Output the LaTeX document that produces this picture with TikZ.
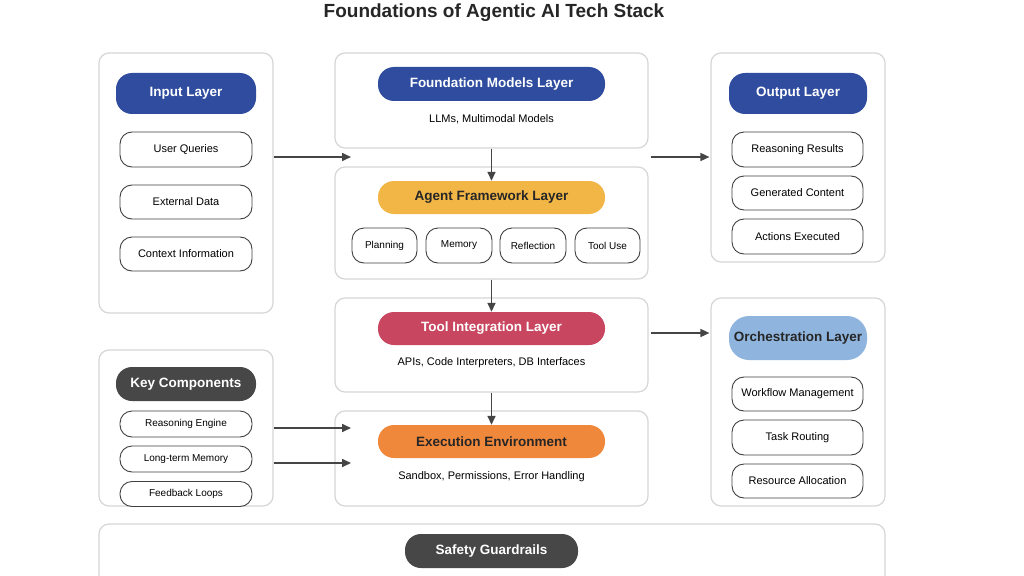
\documentclass[tikz,border=0pt]{standalone}
\usepackage{fontspec}
\setmainfont{Liberation Sans}
\usetikzlibrary{arrows.meta,positioning}

\definecolor{layerblue}{HTML}{2F4C9F}
\definecolor{layergold}{HTML}{F2B647}
\definecolor{layerred}{HTML}{C8465F}
\definecolor{layerorange}{HTML}{F0883C}
\definecolor{layergray}{HTML}{474747}
\definecolor{layersky}{HTML}{8FB5DE}
\definecolor{panelline}{HTML}{D6D6D6}
\definecolor{arrowgray}{HTML}{454545}

\tikzset{
  panel/.style={draw=panelline, line width=1.2pt, rounded corners=10pt, fill=white},
  pill/.style={rounded corners=16pt, font=\fontsize{13.5}{15}\selectfont\bfseries, text=white},
  item/.style={draw=black!75, line width=0.9pt, rounded corners=12pt, fill=white, font=\fontsize{11}{13}\selectfont},
  note/.style={font=\fontsize{11}{13}\selectfont},
  flow/.style={-{Triangle[length=9pt,width=8pt]}, draw=arrowgray, line width=1.6pt}
}

\begin{document}
\begin{tikzpicture}[x=1pt,y=-1pt]
\useasboundingbox[fill=white] (0,0) rectangle (1024,575);

\node[font=\fontsize{19}{22}\selectfont\bfseries, text=black!85] (title) at (494,13) {Foundations of Agentic AI Tech Stack};

% panels
\node[panel, minimum width=174pt, minimum height=260pt] (inpanel) at (186,183) {};
\node[panel, minimum width=313pt, minimum height=95pt] (fmpanel) at (491.5,100.5) {};
\node[panel, minimum width=313pt, minimum height=112pt] (agpanel) at (491.5,223) {};
\node[panel, minimum width=174pt, minimum height=209pt] (outpanel) at (798,157.5) {};
\node[panel, minimum width=313pt, minimum height=94pt] (tipanel) at (491.5,345) {};
\node[panel, minimum width=313pt, minimum height=95pt] (expanel) at (491.5,458.5) {};
\node[panel, minimum width=174pt, minimum height=156pt] (kcpanel) at (186,428) {};
\node[panel, minimum width=174pt, minimum height=208pt] (orpanel) at (798,402) {};
\node[panel, minimum width=786pt, minimum height=70pt] (sgpanel) at (492,559) {};

% input layer
\node[pill, fill=layerblue, minimum width=140pt, minimum height=41pt] (inpill) at (186,93.5) {Input Layer};
\node[item, minimum width=132pt, minimum height=35pt] (query) at (186,149.5) {User Queries};
\node[item, minimum width=132pt, minimum height=34pt] (extdata) at (186,202) {External Data};
\node[item, minimum width=132pt, minimum height=34pt] (context) at (186,254) {Context Information};

% foundation models
\node[pill, fill=layerblue, minimum width=227pt, minimum height=34pt] (fmpill) at (491.5,84) {Foundation Models Layer};
\node[note] (fmnote) at (491.5,119) {LLMs, Multimodal Models};

% agent framework
\node[pill, fill=layergold, text=black!85, minimum width=227pt, minimum height=33pt] (agpill) at (491.5,197.5) {Agent Framework Layer};
\node[item, font=\fontsize{10}{12}\selectfont, minimum width=65pt, minimum height=35pt] (planning) at (384.5,245.5) {Planning};
\node[item, font=\fontsize{10}{12}\selectfont, minimum width=66pt, minimum height=35pt] (memory) at (459,245.5) {Memory};
\node[item, font=\fontsize{10}{12}\selectfont, minimum width=66pt, minimum height=35pt] (reflection) at (533,245.5) {Reflection};
\node[item, font=\fontsize{10}{12}\selectfont, minimum width=65pt, minimum height=35pt] (tooluse) at (607.5,245.5) {Tool Use};

% output layer
\node[pill, fill=layerblue, minimum width=138pt, minimum height=41pt] (outpill) at (798,93.5) {Output Layer};
\node[item, minimum width=131pt, minimum height=35pt] (results) at (797.5,149.5) {Reasoning Results};
\node[item, minimum width=131pt, minimum height=34pt] (content) at (797.5,193) {Generated Content};
\node[item, minimum width=131pt, minimum height=35pt] (actions) at (797.5,236.5) {Actions Executed};

% tool integration
\node[pill, fill=layerred, minimum width=227pt, minimum height=33pt] (tipill) at (491.5,328.5) {Tool Integration Layer};
\node[note] (tinote) at (491.5,363) {APIs, Code Interpreters, DB Interfaces};

% execution environment
\node[pill, fill=layerorange, text=black!85, minimum width=227pt, minimum height=33pt] (expill) at (491.5,441.5) {Execution Environment};
\node[note] (exnote) at (491.5,477) {Sandbox, Permissions, Error Handling};

% key components
\node[pill, fill=layergray, minimum width=140pt, minimum height=34pt] (kcpill) at (186,384) {Key Components};
\node[item, font=\fontsize{10}{12}\selectfont, minimum width=132pt, minimum height=26pt] (engine) at (186,424) {Reasoning Engine};
\node[item, font=\fontsize{10}{12}\selectfont, minimum width=132pt, minimum height=26pt] (ltmemory) at (186,459) {Long-term Memory};
\node[item, font=\fontsize{10}{12}\selectfont, minimum width=132pt, minimum height=25pt] (feedback) at (186,494) {Feedback Loops};

% orchestration
\node[pill, fill=layersky, text=black!85, minimum width=138pt, minimum height=44pt, rounded corners=20pt] (orpill) at (798,338) {Orchestration Layer};
\node[item, minimum width=131pt, minimum height=34pt] (workflow) at (797.5,394) {Workflow Management};
\node[item, minimum width=131pt, minimum height=35pt] (routing) at (797.5,437.5) {Task Routing};
\node[item, minimum width=131pt, minimum height=34pt] (resource) at (797.5,481) {Resource Allocation};

% safety
\node[pill, fill=layergray, minimum width=173pt, minimum height=34pt] (sgpill) at (491.5,551) {Safety Guardrails};

% connectors
\coordinate (inend) at (351,157);
\coordinate (engend) at (351,428);
\coordinate (ltmend) at (351,463);
\draw[flow] (inpanel.east |- inend) -- (inend);
\draw[flow] (fmpanel.south) -- (agpill.north);
\draw[flow] (agpanel.south) -- (tipill.north);
\draw[flow] (tipanel.south) -- (expill.north);
\draw[flow] (fmpanel.east |- inend) ++(2,0) -- ([xshift=-1pt]outpanel.west |- inend);
\draw[flow] ([xshift=2pt]tipanel.east |- orpill) ++(0,-5) -- ([xshift=-1pt,yshift=5pt]orpanel.west |- orpill);
\draw[flow] (kcpanel.east |- engend) -- (engend);
\draw[flow] (kcpanel.east |- ltmend) -- (ltmend);
\end{tikzpicture}
\end{document}
